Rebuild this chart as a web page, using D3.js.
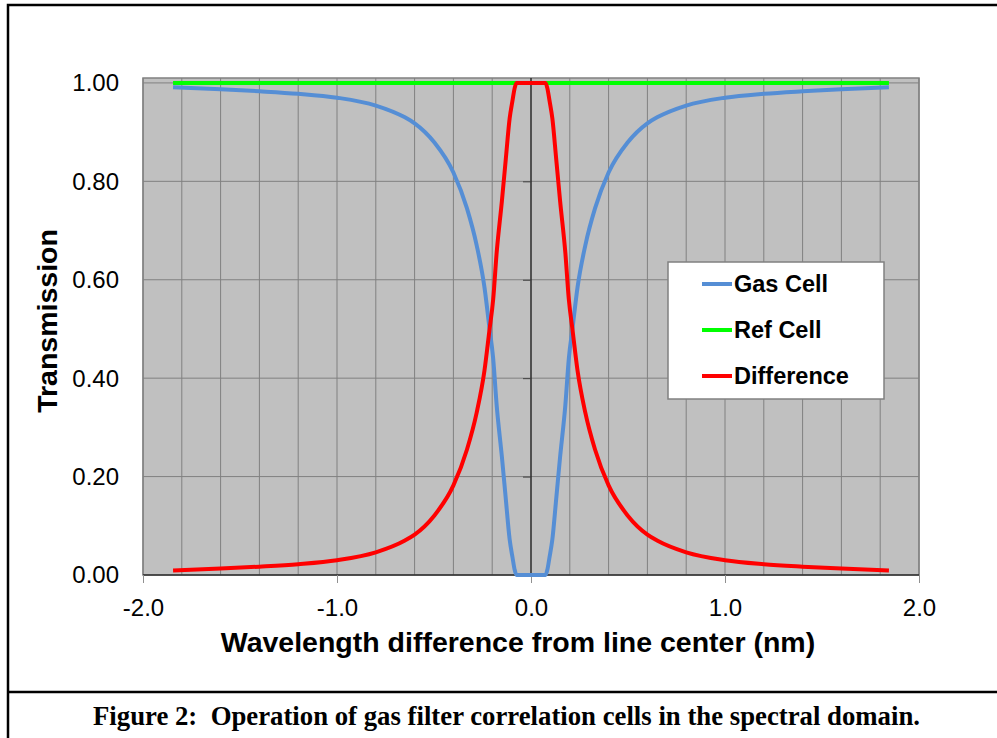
<!DOCTYPE html>
<html>
<head>
<meta charset="utf-8">
<script src="https://cdn.jsdelivr.net/npm/d3@7"></script>
<style>
  body { margin: 0; background: #fff; }
  svg { display: block; }
</style>
</head>
<body>
<svg id="chart" width="997" height="738"></svg>
<script>
// Data
const waveX = [-1.845, -1.6, -1.4, -1.2, -1.0, -0.8, -0.65, -0.6, -0.5, -0.4, -0.33, -0.28, -0.24, -0.215,
  -0.195, -0.177, -0.15, -0.13, -0.11, -0.095, -0.085, -0.075, 0,
  0.075, 0.085, 0.095, 0.11, 0.13, 0.15, 0.177, 0.195, 0.215, 0.24, 0.28, 0.33, 0.4, 0.5, 0.6, 0.65,
  0.8, 1.0, 1.2, 1.4, 1.6, 1.845];

const gasT = [0.991, 0.987, 0.983, 0.978, 0.970, 0.954, 0.930, 0.918, 0.880, 0.818, 0.745, 0.670, 0.585, 0.505,
  0.440, 0.345, 0.240, 0.155, 0.072, 0.035, 0.012, 0.000, 0.000,
  0.000, 0.012, 0.035, 0.072, 0.155, 0.240, 0.345, 0.440, 0.505, 0.585, 0.670, 0.745, 0.818, 0.880, 0.918, 0.930,
  0.954, 0.970, 0.978, 0.983, 0.987, 0.991];

const refT = [1, 1, 1, 1, 1, 1, 1, 1, 1, 1, 1, 1, 1, 1,
  1, 1, 1, 1, 1, 1, 1, 1, 1,
  1, 1, 1, 1, 1, 1, 1, 1, 1, 1, 1, 1, 1, 1, 1, 1,
  1, 1, 1, 1, 1, 1];

const diffT = [0.009, 0.013, 0.017, 0.022, 0.030, 0.046, 0.070, 0.082, 0.120, 0.182, 0.255, 0.330, 0.415, 0.495,
  0.560, 0.655, 0.760, 0.845, 0.928, 0.965, 0.988, 1.000, 1.000,
  1.000, 0.988, 0.965, 0.928, 0.845, 0.760, 0.655, 0.560, 0.495, 0.415, 0.330, 0.255, 0.182, 0.120, 0.082, 0.070,
  0.046, 0.030, 0.022, 0.017, 0.013, 0.009];

const seriesNames = ["Gas Cell", "Ref Cell", "Difference"];
const seriesColors = ["#558ED5", "#00FF00", "#FF0000"];
const xTicks = [-2, -1, 0, 1, 2];
const yTicks = [0, 0.2, 0.4, 0.6, 0.8, 1.0];

const svg = d3.select("#chart");
const sans = "'Liberation Sans', Arial, sans-serif";

// plot area
const plotL = 143, plotR = 919, plotT = 78, plotB = 575;

const x = d3.scaleLinear().domain([-2, 2]).range([plotL, plotR]);
const y = d3.scaleLinear().domain([0, 1.01]).range([plotB, plotT]);

// outer frame + caption separator
svg.append("path")
  .attr("d", "M8,738 V5 H997 M8,692 H997")
  .attr("fill", "none")
  .attr("stroke", "#000")
  .attr("stroke-width", 2.5);

svg.append("rect")
  .attr("x", plotL).attr("y", plotT)
  .attr("width", plotR - plotL).attr("height", plotB - plotT)
  .attr("fill", "#C0C0C0");

// gridlines
const g = svg.append("g");
g.selectAll("line.vgrid")
  .data(d3.range(-10, 11).map(i => i / 5))
  .join("line")
  .attr("class", "vgrid")
  .attr("x1", d => x(d)).attr("x2", d => x(d))
  .attr("y1", plotT).attr("y2", plotB)
  .attr("stroke", "#808080")
  .attr("stroke-width", 1);

g.selectAll("line.hgrid")
  .data(yTicks.slice(1))
  .join("line")
  .attr("class", "hgrid")
  .attr("x1", plotL).attr("x2", plotR)
  .attr("y1", d => y(d)).attr("y2", d => y(d))
  .attr("stroke", "#808080")
  .attr("stroke-width", 1);

svg.append("rect")
  .attr("x", plotL).attr("y", plotT)
  .attr("width", plotR - plotL).attr("height", plotB - plotT)
  .attr("fill", "none")
  .attr("stroke", "#808080")
  .attr("stroke-width", 1.5);

// y axis sits at x = 0
const yAxis = svg.append("g")
  .attr("transform", `translate(${x(0)},0)`)
  .call(d3.axisLeft(y).tickValues(yTicks).tickSize(8).tickFormat(""));
yAxis.select(".domain").attr("stroke", "#000").attr("d", `M0,${plotT}V${plotB}`);
yAxis.selectAll(".tick line").attr("stroke", "#404040");

// y tick labels at the left edge
svg.append("g")
  .selectAll("text")
  .data(yTicks)
  .join("text")
  .attr("x", 119)
  .attr("y", d => y(d))
  .attr("dy", "0.35em")
  .attr("text-anchor", "end")
  .style("font-family", sans)
  .style("font-size", "24px")
  .text(d => d.toFixed(2));

// x axis
const xAxis = svg.append("g")
  .attr("transform", `translate(0,${plotB})`)
  .call(d3.axisBottom(x).tickValues(xTicks).tickSize(8).tickPadding(16)
    .tickFormat(d => d.toFixed(1)));
xAxis.select(".domain").attr("stroke", "#000").attr("d", `M${plotL},0H${plotR}`);
xAxis.selectAll(".tick line").attr("stroke", "#909090");
xAxis.selectAll(".tick text")
  .attr("fill", "#000")
  .style("font-family", sans)
  .style("font-size", "24px");

// axis titles
svg.append("text")
  .attr("x", 518)
  .attr("y", 652)
  .attr("text-anchor", "middle")
  .style("font-family", sans)
  .style("font-size", "28.5px")
  .style("font-weight", "bold")
  .text("Wavelength difference from line center (nm)");

svg.append("text")
  .attr("transform", "translate(57,321) rotate(-90)")
  .attr("text-anchor", "middle")
  .style("font-family", sans)
  .style("font-size", "28.5px")
  .style("font-weight", "bold")
  .text("Transmission");

// curves
const line = d3.line()
  .x(d => x(d[0]))
  .y(d => y(d[1]))
  .curve(d3.curveMonotoneX);

const seriesValues = [gasT, refT, diffT];
svg.append("g")
  .selectAll("path")
  .data(seriesValues)
  .join("path")
  .attr("d", vals => line(waveX.map((wx, i) => [wx, vals[i]])))
  .attr("fill", "none")
  .attr("stroke", (d, i) => seriesColors[i])
  .attr("stroke-width", 4)
  .attr("stroke-linejoin", "round");

// legend
const legend = svg.append("g");
legend.append("rect")
  .attr("x", 668).attr("y", 262)
  .attr("width", 216).attr("height", 137)
  .attr("fill", "#fff")
  .attr("stroke", "#808080")
  .attr("stroke-width", 1.5);

const item = legend.selectAll("g.item")
  .data(seriesNames)
  .join("g")
  .attr("class", "item")
  .attr("transform", (d, i) => `translate(0,${284 + i * 46})`);

item.append("line")
  .attr("x1", 702).attr("x2", 732)
  .attr("stroke", (d, i) => seriesColors[i])
  .attr("stroke-width", 4);

item.append("text")
  .attr("x", 734)
  .attr("dy", "0.36em")
  .style("font-family", sans)
  .style("font-size", "23.5px")
  .style("font-weight", "bold")
  .text(d => d);

// caption (tall, narrow Times bold)
svg.append("text")
  .attr("x", 93)
  .attr("y", 725)
  .attr("textLength", 827)
  .attr("lengthAdjust", "spacingAndGlyphs")
  .style("white-space", "pre")
  .style("font-family", "'Liberation Serif', 'Times New Roman', Tinos, Times, serif")
  .style("font-size", "27px")
  .style("font-weight", "bold")
  .text("Figure 2:  Operation of gas filter correlation cells in the spectral domain.");
</script>
</body>
</html>
